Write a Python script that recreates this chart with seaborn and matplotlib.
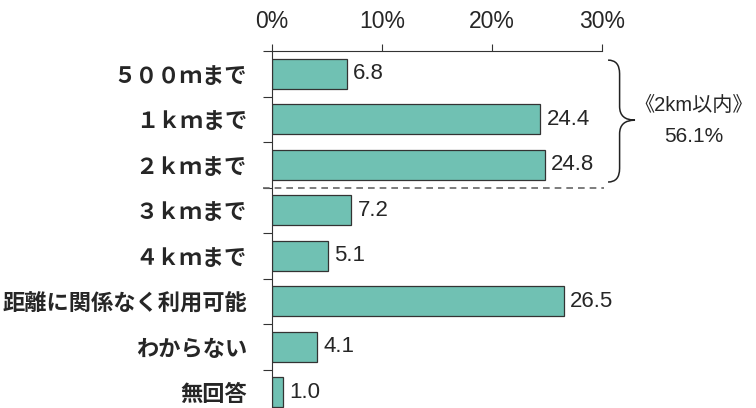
import matplotlib
matplotlib.use("Agg")
import matplotlib.pyplot as plt
import pandas as pd
import seaborn as sns
from matplotlib.path import Path
from matplotlib.patches import PathPatch

# data
categories = ["５００ｍまで", "１ｋｍまで", "２ｋｍまで", "３ｋｍまで", "４ｋｍまで",
              "距離に関係なく利用可能", "わからない", "無回答"]
values = [6.8, 24.4, 24.8, 7.2, 5.1, 26.5, 4.1, 1.0]
x_ticks = [0, 10, 20, 30]
x_tick_labels = ["0%", "10%", "20%", "30%"]
group_label = "《2km以内》"
group_value = "56.1%"

BAR_COLOR = "#70C1B3"
LATIN = ["Liberation Sans", "Noto Sans CJK JP", "DejaVu Sans"]
CJK = ["Noto Sans CJK JP", "DejaVu Sans"]

sns.set_theme(style="white")
plt.rcParams["font.family"] = LATIN

df = pd.DataFrame({"category": categories, "value": values})

fig = plt.figure(figsize=(7.56, 4.08), dpi=100)
ax = fig.add_axes([272 / 756, -7 / 408, 330 / 756, 364 / 408])

sns.barplot(data=df, x="value", y="category", orient="h", color=BAR_COLOR,
            saturation=1, width=0.66, edgecolor="#333333", linewidth=0.9, ax=ax)

ax.set_xlim(0, 30)
ax.set_ylim(len(categories) - 0.5, -0.5)
ax.set_xlabel("")
ax.set_ylabel("")

# top axis with percent labels
ax.xaxis.tick_top()
ax.set_xticks(x_ticks)
ax.set_xticklabels(x_tick_labels, fontsize=16.5)
ax.tick_params(axis="x", direction="out", length=5, width=0.8, color="#333333", pad=8)

# category labels, tick marks between categories
ax.set_yticks(range(len(categories)))
ax.set_yticklabels(categories, fontsize=16, fontweight="bold", family=CJK)
ax.set_yticks([i + 0.5 for i in range(-1, len(categories))], minor=True)
ax.tick_params(axis="y", which="major", length=0, pad=18)
ax.tick_params(axis="y", which="minor", direction="out", length=6.5, width=0.8,
               color="#333333", left=True)

for side in ["right", "bottom"]:
    ax.spines[side].set_visible(False)
for side in ["top", "left"]:
    ax.spines[side].set_color("#333333")
    ax.spines[side].set_linewidth(0.8)

# value labels
for i, v in enumerate(values):
    ax.annotate(f"{v:.1f}", (v, i), xytext=(4.5, 0), textcoords="offset points",
                va="center", ha="left", fontsize=16)

# dashed separator below the 2km group
ax.plot([-0.8, 30.2], [2.5, 2.5], linestyle=(0, (4, 3)), color="#666666",
        linewidth=1.2, clip_on=False)

# curly brace for the 2km group
xe, xs, xt = 30.55, 31.6, 33.0
yt, ym, yb, r = -0.3, 1.02, 2.38, 0.3
verts = [(xe, yt), (xs, yt), (xs, yt + r),
         (xs, ym - r), (xs, ym), (xt, ym),
         (xs, ym), (xs, ym + r),
         (xs, yb - r), (xs, yb), (xe, yb)]
codes = [Path.MOVETO, Path.CURVE3, Path.CURVE3,
         Path.LINETO, Path.CURVE3, Path.CURVE3,
         Path.CURVE3, Path.CURVE3,
         Path.LINETO, Path.CURVE3, Path.CURVE3]
ax.add_patch(PathPatch(Path(verts, codes), fill=False, edgecolor="#222222",
                       linewidth=1.1, clip_on=False))

ax.text(38.3, 0.69, group_label, ha="center", va="center", fontsize=14.5)
ax.text(38.3, 1.37, group_value, ha="center", va="center", fontsize=15)

fig.savefig("out.png", dpi=100)
